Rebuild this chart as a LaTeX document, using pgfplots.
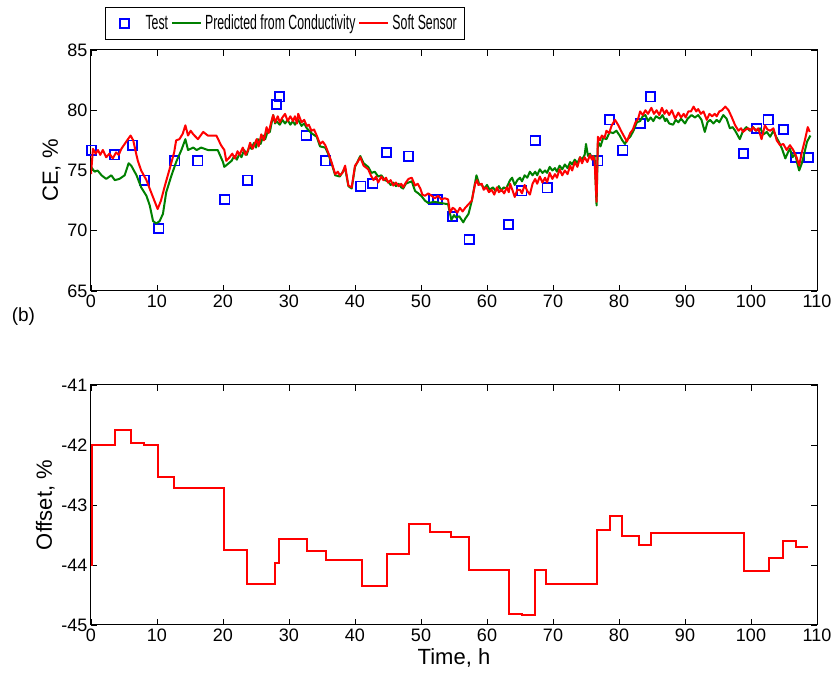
\documentclass[border=0pt]{standalone}
\usepackage{pgfplots}
\pgfplotsset{compat=1.18}
\usepackage{fontspec}
\setmainfont{Liberation Sans}
\usepackage{graphicx}

\definecolor{mblue}{RGB}{0,0,255}
\definecolor{mgreen}{RGB}{0,128,0}
\definecolor{mred}{RGB}{255,0,0}

\newcommand{\legtext}[1]{\scalebox{0.6}[1]{\fontsize{20.5}{22}\selectfont #1}}

\pgfplotsset{
  mlab/.style={
    scale only axis, width=726pt,
    xmin=0, xmax=110, xtick={0,10,...,110},
    tick align=inside, major tick length=6pt,
    axis line style={line width=1pt, black},
    tick style={line width=0.8pt, black},
    ticklabel style={font=\fontsize{18}{20}\selectfont},
    label style={font=\fontsize{22}{24}\selectfont},
    /pgf/number format/assume math mode=true,
    clip mode=individual,
  },
  linelegend/.style={legend image code/.code={\draw[##1] (0pt,0pt) -- (29pt,0pt);}},
  marklegend/.style={legend image code/.code={%
    \draw[##1, only marks] plot coordinates {(14pt,0pt)};
    \path[draw=none] (0pt,0pt) (32pt,0pt);}},
}

\begin{document}
\begin{tikzpicture}
\useasboundingbox (0,0) rectangle (838pt,679pt);

% (a) CE
\begin{axis}[mlab,
  at={(91pt,388pt)}, anchor=south west, height=241pt,
  ymin=65, ymax=85, ytick={65,70,...,85},
  ylabel={CE, \%},
  legend columns=3,
  legend style={at={(0.0193,1.0415)}, anchor=south west, draw=black,
    line width=1pt, inner xsep=5pt, inner ysep=4pt,
    nodes={inner xsep=3pt, inner ysep=4pt},
    /tikz/every even column/.append style={column sep=0pt}},
]
\addplot[only marks, mark=square, mark size=4.6pt, mblue,
  mark options={line width=1.8pt}, marklegend]
  coordinates {
  (0.1,76.7) (3.6,76.3) (6.3,77.1) (8.1,74.2) (10.3,70.2) (12.7,75.8)
  (16.2,75.8) (20.3,72.6) (23.7,74.2) (28.1,80.5) (28.6,81.1) (32.6,77.9)
  (35.5,75.8) (40.9,73.7) (42.7,73.9) (44.8,76.5) (48.1,76.2) (51.9,72.6)
  (52.5,72.6) (54.8,71.2) (57.3,69.25) (63.3,70.5) (65.3,73.3) (67.3,77.5)
  (69.1,73.55) (76.8,75.8) (78.6,79.2) (80.6,76.7) (83.2,78.9) (84.8,81.1)
  (98.9,76.4) (100.9,78.5) (102.6,79.2) (104.9,78.4) (106.8,76.1) (108.7,76.1)
  };
\addlegendentry{\legtext{Test}}

\addplot[mgreen, line width=2pt, line join=round, linelegend]
  coordinates {
  (0,75.3) (0.55,74.9) (1.0,75.0) (1.6,74.6) (2.3,74.3) (3.08,74.6) (3.6,74.2)
  (4.3,74.3) (5.1,74.6) (5.7,75.6) (6.1,75.4) (6.9,74.6) (7.6,73.6) (8.4,72.9)
  (8.9,72.1) (9.4,70.8) (9.9,70.6) (10.4,70.8) (10.9,71.4) (11.4,73.2) (12.2,74.6)
  (12.9,75.7) (13.7,76.7) (14.3,77.6) (14.7,76.7) (15.5,76.9) (16.0,76.7)
  (16.7,76.9) (17.7,76.7) (19.2,76.7) (20.0,75.7) (20.2,75.3) (21.3,75.8)
  (21.7,76.2) (22.1,75.9) (22.5,76.4) (22.8,76.1) (23.2,76.7) (23.6,76.3)
  (24.0,77.0) (24.3,76.8) (24.7,77.3) (25.0,76.9) (25.3,77.6) (25.7,77.2)
  (26.1,77.9) (26.4,77.6) (26.8,78.3) (27.1,78.2) (27.6,79.6) (27.9,78.9)
  (28.1,79.1) (28.6,78.8) (29.0,79.2) (29.4,78.9) (29.8,79.2) (30.2,78.8)
  (30.6,79.1) (30.9,78.8) (31.4,79.2) (31.9,78.7) (32.3,78.9) (32.7,78.5)
  (33.4,78.1) (34.2,77.8) (34.7,77.0) (35.5,76.9)
  (36.0,76.3) (36.5,75.5) (37.0,74.6) (37.7,74.5) (38.5,75.2) (39.0,73.7)
  (39.5,73.5) (40.0,75.3) (40.8,76.2) (41.3,75.6) (42.0,75.3) (42.5,74.8)
  (43.0,74.9) (43.5,74.5) (44.0,74.6) (44.5,74.2) (45.0,74.1) (45.4,73.8)
  (45.8,74.0) (46.2,73.7) (46.6,73.9) (47.0,73.6) (47.3,73.5) (47.7,73.9)
  (48.1,74.0) (48.6,74.1) (49.1,73.3) (49.6,73.1) (50.1,72.85) (50.6,72.5)
  (51.1,72.3) (52.0,72.4) (53.0,72.3) (54.1,72.2) (54.6,70.9) (55.0,71.3)
  (55.3,71.1) (55.8,71.2) (56.4,70.7) (56.7,71.0) (57.2,71.4) (57.7,72.5)
  (58.4,74.6) (58.8,73.9) (59.2,73.8) (59.6,73.5) (60.0,73.8) (60.4,73.4)
  (60.9,73.6) (61.3,73.3) (61.8,73.7) (62.2,73.3) (62.5,73.6) (62.9,73.5)
  (63.5,74.2) (63.8,74.4) (64.2,73.8) (64.6,74.2) (65.0,74.4) (65.3,74.1)
  (65.7,74.6) (66.1,74.4) (66.5,74.9) (66.9,74.6) (67.3,74.9) (67.6,74.6)
  (68.0,75.1) (68.4,74.8) (68.8,75.0) (69.1,74.8) (69.5,75.3) (69.9,75.0)
  (70.3,75.2) (70.6,74.9) (71.0,75.4) (71.4,75.1) (71.8,75.5) (72.2,75.2)
  (72.6,75.7) (72.9,75.5) (73.3,75.9) (73.7,75.6) (74.1,76.1) (74.4,75.9)
  (74.8,76.3) (75.0,77.2) (75.3,76.2) (75.6,76.4) (75.9,76.0) (76.3,76.2)
  (76.6,72.1) (76.8,77.4) (77.2,77.0) (77.6,77.7) (78.1,77.6) (78.6,78.2)
  (79.1,78.1) (79.6,78.3) (80.1,77.9) (80.5,77.5) (80.9,77.2) (81.3,77.6)
  (81.7,77.8) (82.2,78.3) (82.7,79.0) (83.2,79.1) (83.6,79.5) (84.0,79.6)
  (84.4,79.1) (84.8,79.4) (85.2,79.1) (85.6,79.5) (86.2,79.3) (86.6,79.6)
  (87.0,79.1) (87.2,79.3) (87.6,78.9) (88.2,78.8) (88.6,79.2) (89.0,79.0)
  (89.4,79.3) (90.0,78.9) (90.4,79.3) (91.0,79.6) (91.5,79.4) (92.0,79.6)
  (92.5,79.2) (93.0,78.2) (93.4,79.0) (93.8,79.2) (94.3,78.9) (94.8,79.2)
  (95.2,79.0) (95.8,79.6) (96.3,79.3) (96.8,78.5) (97.2,78.6) (97.6,78.3)
  (98.3,77.6) (98.8,78.3) (99.3,78.6) (99.8,78.3) (100.3,78.6) (100.8,78.3)
  (101.4,78.5) (101.9,78.0) (102.4,78.2) (102.9,77.8) (103.4,78.3) (103.8,77.8)
  (104.2,77.4) (104.7,76.8) (105.2,76.0) (105.6,76.5) (105.9,76.8) (106.3,76.1)
  (106.7,76.4) (107.0,75.6) (107.3,75.0) (107.7,75.6) (108.0,76.25) (108.5,77.4)
  (109.0,77.9)
  };
\addlegendentry{\legtext{Predicted from Conductivity}}

\addplot[mred, line width=2pt, line join=round, linelegend]
  coordinates {
  (0,74.7) (0.3,76.8) (0.7,76.4) (1.06,76.7) (1.4,76.3) (1.8,76.7) (2.3,76.1)
  (2.8,76.4) (3.3,76.0) (3.8,76.5) (4.2,76.3) (4.6,76.8) (5.1,77.2) (5.6,77.6)
  (6.0,77.9) (6.4,77.5) (6.9,76.25) (7.1,75.8) (7.6,75.0) (8.4,74.2) (9.1,73.2)
  (9.6,72.5) (10.1,71.8) (10.6,72.5) (11.2,73.75) (11.9,75.1) (12.6,76.5)
  (12.9,77.5) (13.4,77.6) (13.9,78.05) (14.3,78.75) (14.7,77.9) (15.1,78.3)
  (15.5,78.0) (16.2,77.6) (17.0,78.2) (17.7,77.9) (19.0,77.9) (19.7,77.1)
  (20.2,76.7) (20.5,75.8) (21.0,76.1) (21.4,76.4) (21.8,76.0) (22.2,76.6)
  (22.5,76.3) (23.0,76.9) (23.4,76.3) (23.8,76.7) (24.1,77.3) (24.5,76.8)
  (25.1,77.6) (25.4,77.0) (25.8,78.0) (26.2,77.5) (26.6,78.6) (26.9,78.1)
  (27.3,79.0) (27.6,79.6) (27.9,79.0) (28.3,79.5) (28.6,79.0) (29.0,79.4)
  (29.4,79.7) (29.8,79.1) (30.2,79.5) (30.6,79.1) (30.9,79.5) (31.2,78.9)
  (31.4,79.7) (31.9,79.0) (32.3,79.2) (32.7,78.7) (33.0,78.8) (33.4,78.3)
  (33.8,78.4) (34.2,77.9) (34.7,77.2) (35.1,77.4) (35.5,77.1) (36.0,76.4)
  (36.5,75.6) (37.0,74.7) (37.4,74.9) (37.7,74.6) (38.1,74.8) (38.5,75.4)
  (39.0,73.75) (39.5,73.6) (40.0,75.4) (40.4,75.7) (40.8,76.1) (41.3,75.4)
  (42.0,75.1) (42.4,74.6) (42.8,74.2) (43.2,74.5) (43.5,74.0) (44.0,74.5)
  (44.3,74.2) (44.7,74.4) (45.0,74.0) (45.4,74.2) (45.8,73.75) (46.2,74.0)
  (46.6,73.7) (47.0,73.9) (47.3,73.6) (47.7,74.0) (48.1,74.3) (48.6,74.4)
  (49.1,73.75) (49.5,73.9) (49.9,73.5) (50.2,73.0) (50.6,72.9) (51.1,73.1)
  (51.6,72.9) (52.1,72.7) (52.6,72.9) (53.1,72.6) (53.6,72.7) (54.1,72.6)
  (54.4,71.5) (54.8,71.9) (55.1,71.8) (55.5,71.5) (55.9,71.9) (56.3,71.6)
  (56.7,71.9) (57.2,72.2) (57.7,72.5) (58.2,73.9) (58.5,74.2) (58.7,73.8)
  (59.2,73.9) (59.5,73.4) (59.9,73.6) (60.3,73.2) (60.7,73.4) (61.1,73.0)
  (61.5,73.6) (61.8,73.2) (62.2,73.4) (62.6,73.1) (63.0,73.6) (63.3,73.2)
  (63.5,73.9) (63.9,73.3) (64.2,72.8) (64.6,73.4) (65.0,73.4) (65.3,73.1)
  (65.7,73.8) (66.1,73.3) (66.5,73.0) (66.9,73.9) (67.3,74.3) (67.6,73.9)
  (68.0,74.5) (68.4,74.0) (68.8,74.4) (69.1,74.0) (69.5,74.8) (69.9,74.3)
  (70.3,74.7) (70.6,74.4) (71.0,75.1) (71.4,74.6) (71.8,75.0) (72.2,74.7)
  (72.6,75.4) (72.9,75.0) (73.3,75.7) (73.7,75.3) (74.1,76.1) (74.4,75.6)
  (74.8,76.1) (75.2,75.7) (75.6,76.3) (75.9,75.9) (76.1,76.2) (76.3,75.8)
  (76.6,72.4) (76.8,77.8) (77.1,77.5) (77.4,77.9) (77.8,77.7) (78.1,78.3)
  (78.5,78.1) (78.9,78.75) (79.4,79.2) (79.9,78.75) (80.3,78.3) (80.7,77.9)
  (81.2,77.4) (81.7,78.1) (82.1,78.4) (82.5,79.0) (82.9,79.3) (83.2,79.9)
  (83.6,79.6) (84.0,80.0) (84.4,79.7) (84.9,80.2) (85.3,79.7) (85.7,80.0)
  (86.1,79.6) (86.5,80.2) (86.9,79.7) (87.2,80.0) (87.6,79.6) (88.0,80.0)
  (88.5,79.3) (89.0,79.8) (89.4,79.4) (89.8,79.7) (90.1,79.4) (90.5,79.9)
  (90.9,79.9) (91.3,80.3) (91.7,79.9) (92.0,80.1) (92.4,79.7) (92.8,79.9)
  (93.3,79.2) (93.7,79.7) (94.1,79.5) (94.5,79.7) (94.8,79.5) (95.2,79.9)
  (95.6,80.0) (96.1,80.3) (96.6,80.0) (97.1,79.4) (97.6,78.75) (98.1,78.3)
  (98.5,78.5) (98.8,78.2) (99.2,78.4) (99.6,78.5) (100.0,78.3) (100.3,78.6)
  (100.7,78.3) (101.1,78.5) (101.6,77.6) (102.1,78.75) (102.5,78.4) (102.9,78.3)
  (103.4,78.5) (103.9,77.5) (104.4,77.1) (104.9,77.2) (105.4,76.7) (105.9,77.1)
  (106.4,76.7) (106.9,76.1) (107.3,75.4) (107.7,76.5) (108.2,77.6) (108.6,78.6)
  (108.9,78.2)
  };
\addlegendentry{\legtext{Soft Sensor}}
\end{axis}

% (b) Offset
\begin{axis}[mlab,
  at={(91pt,54pt)}, anchor=south west, height=240pt,
  ymin=-45, ymax=-41, ytick={-45,-44,...,-41},
  ylabel={Offset, \%}, xlabel={Time, h},
]
\addplot[mred, line width=2pt, const plot] coordinates {
  (0,-44.0) (0.1,-42.0) (3.6,-41.75) (6.0,-41.96) (8.1,-42.0) (10.2,-42.53)
  (12.6,-42.71) (20.2,-43.75) (23.6,-44.32) (27.9,-43.96) (28.5,-43.57)
  (32.8,-43.77) (35.6,-43.92) (41.0,-44.35) (44.8,-43.81) (48.2,-43.32)
  (51.4,-43.45) (54.6,-43.53) (57.3,-44.08) (63.3,-44.81) (65.3,-44.83)
  (67.2,-44.09) (69.0,-44.32) (76.6,-43.42) (78.6,-43.18) (80.5,-43.51)
  (83.1,-43.67) (84.8,-43.47) (98.9,-44.1) (102.8,-43.88) (104.8,-43.6)
  (106.8,-43.7) (108.7,-43.7)
};
\node[anchor=west, font=\fontsize{19}{21}\selectfont]
  at (rel axis cs:-0.114,1.283) {(b)};
\end{axis}
\end{tikzpicture}
\end{document}
